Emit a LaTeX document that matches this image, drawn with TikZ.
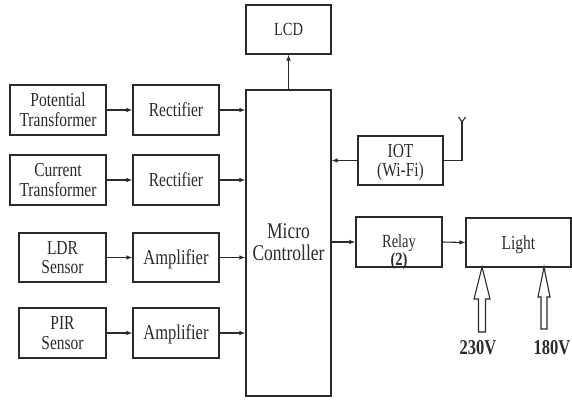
\documentclass[tikz,border=0pt]{standalone}
\usepackage{fontspec}
\usepackage{graphicx}
\setmainfont{Liberation Serif}
\usetikzlibrary{arrows.meta}
\definecolor{ink}{HTML}{2A2A2A}
\newcommand{\txs}[2]{\raisebox{#1}[\height][\depth]{\scalebox{1}[1.28]{\begin{tabular}{@{}c@{}}#2\end{tabular}}}}
\newcommand{\tx}[1]{\txs{-2.5pt}{#1}}
\tikzset{
  blk/.style={draw=ink, line width=1.1pt, rectangle, align=center, inner sep=0pt,
    text=ink, font=\fontsize{15.5}{15.6}\selectfont},
  conn/.style={draw=ink, line width=1.1pt, -{Latex[length=6pt,width=4.5pt]}},
  wire/.style={draw=ink, line width=1.1pt},
  hollow/.style={draw=ink, line width=1.1pt, fill=white},
  volt/.style={text=ink, font=\fontsize{16.5}{17}\selectfont\bfseries}
}
\begin{document}
\begin{tikzpicture}[x=1pt,y=-1pt]
\useasboundingbox (0,0) rectangle (572,400);
% left column
\node[blk, minimum width=96pt, minimum height=50pt] (pt) at (58,110) {\tx{Potential\\Transformer}};
\node[blk, minimum width=86pt, minimum height=50pt] (r1) at (176,110) {\tx{Rectifier}};
\node[blk, minimum width=96pt, minimum height=50pt] (ct) at (58,180) {\tx{Current\\Transformer}};
\node[blk, minimum width=86pt, minimum height=50pt] (r2) at (176,180) {\tx{Rectifier}};
\node[blk, minimum width=87pt, minimum height=49pt] (ldr) at (62.5,257.5) {\tx{LDR\\Sensor}};
\node[blk, minimum width=86pt, minimum height=49pt, font=\fontsize{16.5}{16.5}\selectfont] (a1) at (176,257.5) {\tx{Amplifier}};
\node[blk, minimum width=87pt, minimum height=50pt] (pir) at (62.5,333) {\tx{PIR\\Sensor}};
\node[blk, minimum width=86pt, minimum height=50pt, font=\fontsize{16.5}{16.5}\selectfont] (a2) at (176,333) {\tx{Amplifier}};
% micro controller
\node[blk, minimum width=85pt, minimum height=306pt, font=\fontsize{17.5}{17.2}\selectfont] (mc) at (288.5,243) {\tx{Micro\\Controller}};
\node[blk, minimum width=85pt, minimum height=49pt, font=\fontsize{14.5}{14.5}\selectfont] (lcd) at (288.5,29.5) {\tx{LCD}};
% right side
\node[blk, minimum width=85pt, minimum height=49pt] (iot) at (400.5,160.5) {\tx{IOT\\(Wi-Fi)}};
\node[blk, minimum width=86pt, minimum height=50pt, font=\fontsize{14.5}{13.5}\selectfont] (relay) at (399,242) {\txs{-10.5pt}{Relay\\\textbf{(2)}}};
\node[blk, minimum width=105pt, minimum height=49pt] (light) at (518.5,242.5) {\tx{Light}};
% connectors
\draw[conn] (pt.east) -- (r1.west);
\draw[conn] (ct.east) -- (r2.west);
\draw[conn] (ldr.east) -- (a1.west);
\draw[conn] (pir.east) -- (a2.west);
\draw[conn] (r1.east) -- (r1.east -| mc.west);
\draw[conn] (r2.east) -- (r2.east -| mc.west);
\draw[conn] (a1.east) -- (a1.east -| mc.west);
\draw[conn] (a2.east) -- (a2.east -| mc.west);
\draw[conn] (mc.north) -- (lcd.south);
\draw[conn] (iot.west) -- (iot.west -| mc.east);
\draw[conn] (mc.east |- relay.west) -- (relay.west);
\draw[conn] (relay.east) -- (light.west);
% antenna
\coordinate (ant) at (462,122);
\draw[wire] (iot.east) -| (ant);
\draw[wire, line join=miter] (458.5,117) -- (ant) -- (465.5,117);
\draw[wire] (ant) -- (462,126);
% supply arrows
\draw[hollow, line join=miter] (482,267) -- (490,299) -- (485.5,299) -- (485.5,332) -- (478.5,332) -- (478.5,299) -- (474,299) -- cycle;
\draw[hollow, line join=miter] (544,267) -- (550,297) -- (547,297) -- (547,329) -- (541,329) -- (541,297) -- (538,297) -- cycle;
\node[volt] (v230) at (478,348) {\tx{230V}};
\node[volt] (v180) at (552,348) {\tx{180V}};
\end{tikzpicture}
\end{document}
